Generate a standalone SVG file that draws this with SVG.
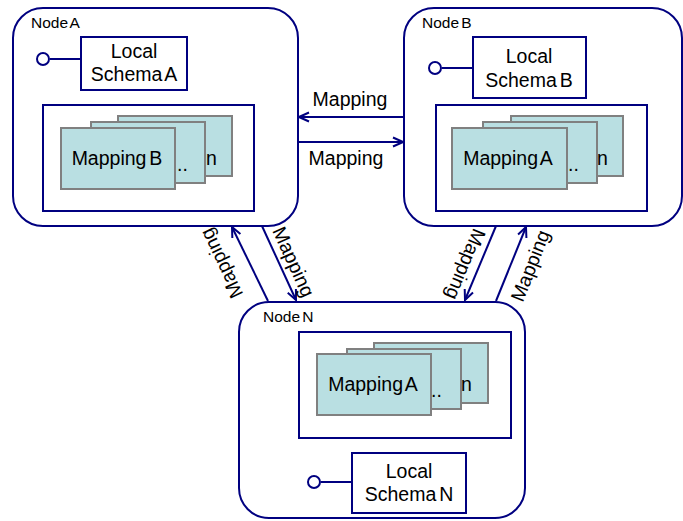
<svg xmlns="http://www.w3.org/2000/svg" width="683" height="521" viewBox="0 0 683 521">
  <style>
    text { font-family: "Liberation Sans", Arial, sans-serif; fill: #000; }
    .node { fill: #fff; stroke: #000080; stroke-width: 2; }
    .box { fill: #fff; stroke: #000080; stroke-width: 2; }
    .card { fill: #b9dfe2; stroke: #808080; stroke-width: 2; }
    .port { fill: #fff; stroke: #000080; stroke-width: 2; }
    .wire { stroke: #000080; stroke-width: 2; fill: none; }
    .title { font-size: 15.5px; word-spacing: -2px; }
    .lbl { font-size: 19.5px; word-spacing: -2.5px; }
    .mid { text-anchor: middle; }
  </style>
  <defs>
    <marker id="arrow" viewBox="0 0 12 12" refX="11" refY="6" markerWidth="12" markerHeight="12" markerUnits="userSpaceOnUse" orient="auto">
      <path d="M1,1.5 L11,6 L1,10.5" fill="none" stroke="#000080" stroke-width="2"/>
    </marker>
  </defs>

  <!-- Node A -->
  <g id="node-a">
    <rect class="node" x="13" y="8" width="285" height="218" rx="30"/>
    <text class="title" x="31" y="28">Node A</text>
    <line class="wire" x1="50" y1="59" x2="81" y2="59"/>
    <circle class="port" cx="43" cy="59" r="6"/>
    <rect class="box" x="81" y="37" width="106" height="53"/>
    <text class="lbl mid" x="134" y="58">Local</text>
    <text class="lbl mid" x="134" y="81">Schema A</text>
    <rect class="box" x="43" y="105" width="211" height="106"/>
    <rect class="card" x="118" y="116" width="114" height="60"/>
    <text class="lbl" x="206" y="165">n</text>
    <rect class="card" x="91" y="122" width="114" height="61"/>
    <text class="lbl" x="177" y="171">..</text>
    <rect class="card" x="61" y="128" width="114" height="61"/>
    <text class="lbl mid" x="117" y="165">Mapping B</text>
  </g>

  <!-- Node B -->
  <g id="node-b">
    <rect class="node" x="404" y="8" width="278" height="218" rx="30"/>
    <text class="title" x="422" y="28">Node B</text>
    <line class="wire" x1="442" y1="68" x2="473" y2="68"/>
    <circle class="port" cx="435" cy="68" r="6"/>
    <rect class="box" x="473" y="37" width="113" height="61"/>
    <text class="lbl mid" x="529" y="63">Local</text>
    <text class="lbl mid" x="529" y="87">Schema B</text>
    <rect class="box" x="436" y="105" width="211" height="106"/>
    <rect class="card" x="511" y="116" width="112" height="60"/>
    <text class="lbl" x="597" y="165">n</text>
    <rect class="card" x="483" y="122" width="114" height="61"/>
    <text class="lbl" x="568" y="171">..</text>
    <rect class="card" x="452" y="128" width="115" height="61"/>
    <text class="lbl mid" x="508" y="165">Mapping A</text>
  </g>

  <!-- Node N -->
  <g id="node-n">
    <rect class="node" x="239" y="302" width="286" height="216" rx="30"/>
    <text class="title" x="263" y="322">Node N</text>
    <rect class="box" x="299" y="332" width="212" height="106"/>
    <rect class="card" x="374" y="343" width="114" height="60"/>
    <text class="lbl" x="461" y="391">n</text>
    <rect class="card" x="347" y="349" width="114" height="60"/>
    <text class="lbl" x="431" y="397">..</text>
    <rect class="card" x="317" y="354" width="114" height="61"/>
    <text class="lbl mid" x="373" y="391">Mapping A</text>
    <line class="wire" x1="321" y1="482" x2="352" y2="482"/>
    <circle class="port" cx="314" cy="482" r="6"/>
    <rect class="box" x="352" y="453" width="114" height="60"/>
    <text class="lbl mid" x="409" y="478">Local</text>
    <text class="lbl mid" x="409" y="501">Schema N</text>
  </g>

  <!-- Connectors -->
  <g id="connectors">
    <line class="wire" x1="404" y1="117" x2="299" y2="117" marker-end="url(#arrow)"/>
    <line class="wire" x1="298" y1="142" x2="403" y2="142" marker-end="url(#arrow)"/>
    <text class="lbl mid" x="350" y="106">Mapping</text>
    <text class="lbl mid" x="346" y="165">Mapping</text>

    <line class="wire" x1="268" y1="301" x2="232" y2="227" marker-end="url(#arrow)"/>
    <line class="wire" x1="262" y1="226" x2="296" y2="300" marker-end="url(#arrow)"/>
    <text class="lbl mid" transform="translate(222 263) rotate(-115.6)" x="0" y="6">Mapping</text>
    <text class="lbl mid" transform="translate(293 262) rotate(65.6)" x="0" y="6">Mapping</text>

    <line class="wire" x1="496" y1="226" x2="465" y2="300" marker-end="url(#arrow)"/>
    <line class="wire" x1="496" y1="301" x2="526" y2="227" marker-end="url(#arrow)"/>
    <text class="lbl mid" transform="translate(465 264) rotate(112.5)" x="0" y="6">Mapping</text>
    <text class="lbl mid" transform="translate(531 266) rotate(-68.5)" x="0" y="6">Mapping</text>
  </g>
</svg>
